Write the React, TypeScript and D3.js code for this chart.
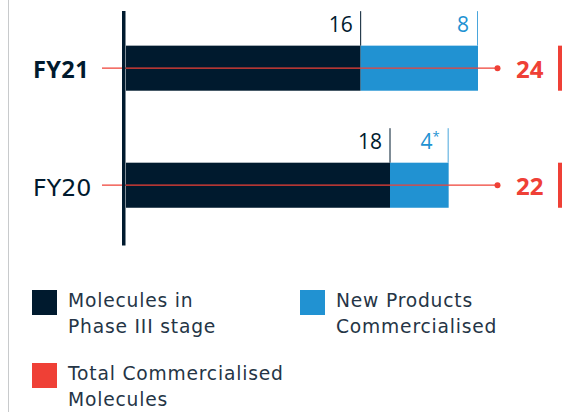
import React from "react";
import * as d3 from "d3";

const categories = ["FY21", "FY20"];
const phase3 = [16, 18];
const newProducts = [8, 4];
const newProductLabels = ["8", "4"];
const newProductMarks = ["", "*"];
const totals = [24, 22];
const boldCategory = ["FY21"];

const legendItems = [
  { lines: ["Molecules in", "Phase III stage"], color: "#001a2e" },
  { lines: ["New Products", "Commercialised"], color: "#2192d2" },
  { lines: ["Total Commercialised", "Molecules"], color: "#ef4036" },
];

const W = 572;
const H = 412;
const DARK = "#001a2e";
const BLUE = "#2192d2";
const RED = "#ef4036";
const FONT = "'Open Sans', 'Noto Sans', sans-serif";
const WIDE = "'DejaVu Sans', 'Open Sans', sans-serif";

export default function App() {
  const x = d3.scaleLinear().domain([0, 24]).range([126, 478]);
  const y = d3
    .scaleBand<string>()
    .domain(categories)
    .range([0, 253.4])
    .paddingInner(0.615)
    .paddingOuter(0.39);
  const bw = y.bandwidth();

  const legendPos = [
    { x: 32, y: 290 },
    { x: 300, y: 290 },
    { x: 32, y: 363 },
  ];

  return (
    <svg
      width={W}
      height={H}
      style={{ position: "absolute", left: 0, top: 0, fontFamily: FONT }}
    >
      <rect x={0} y={0} width={W} height={H} fill="#fff" />
      <line x1={8.5} x2={8.5} y1={0} y2={H} stroke="#c8cacc" strokeWidth={1} />

      {categories.map((c, i) => {
        const y0 = y(c)!;
        const cy = y0 + bw / 2;
        const xs = x(0);
        const x1 = x(phase3[i]);
        const x2 = x(phase3[i] + newProducts[i]);
        const tickTop = y0 - 34.5;
        const bold = boldCategory.includes(c);
        return (
          <g key={c}>
            <rect x={xs} y={y0} width={x1 - xs} height={bw} fill={DARK} />
            <rect x={x1} y={y0} width={x2 - x1} height={bw} fill={BLUE} />
            <line x1={x1} x2={x1} y1={tickTop} y2={y0} stroke={DARK} strokeWidth={1} />
            <line x1={x2 - 0.5} x2={x2 - 0.5} y1={tickTop} y2={y0} stroke="#4aa6dc" strokeWidth={1} />
            <text x={x1 - 8} y={y0 - 13.5} textAnchor="end" fontSize={21} fill={DARK}>
              {phase3[i]}
            </text>
            <text x={x2 - 9} y={y0 - 13.5} textAnchor="end" fontSize={21} fill={BLUE}>
              {newProductLabels[i]}
              {newProductMarks[i] ? (
                <tspan fontSize={13} dy={-8}>{newProductMarks[i]}</tspan>
              ) : null}
            </text>
            {bold ? (
              <text x={33} y={cy + 9.5} fontSize={23.5} fontWeight={700} fill={DARK} letterSpacing={0.4}>
                {c}
              </text>
            ) : (
              <text x={33} y={cy + 10.5} fontSize={23.8} fill={DARK} fontFamily={WIDE}>
                {c}
              </text>
            )}
            <line x1={102} x2={497} y1={cy} y2={cy} stroke={RED} strokeWidth={1.3} />
            <circle cx={497.5} cy={cy} r={3} fill={RED} />
            <text x={516} y={cy + 9.5} fontSize={24} fontWeight={700} fill={RED}>
              {totals[i]}
            </text>
            <rect x={558} y={y0} width={4} height={bw} fill={RED} />
          </g>
        );
      })}

      <rect x={122} y={11} width={3.5} height={234.5} fill={DARK} />

      {legendItems.map((it, i) => {
        const p = legendPos[i];
        return (
          <g key={i}>
            <rect x={p.x} y={p.y} width={25} height={25} fill={it.color} />
            {it.lines.map((l, j) => (
              <text
                key={j}
                x={p.x + 36}
                y={p.y + 16.5 + j * 26}
                fontSize={18.7}
                fill="#253546"
                fontFamily={WIDE}
                letterSpacing={0.8}
              >
                {l}
              </text>
            ))}
          </g>
        );
      })}
    </svg>
  );
}
